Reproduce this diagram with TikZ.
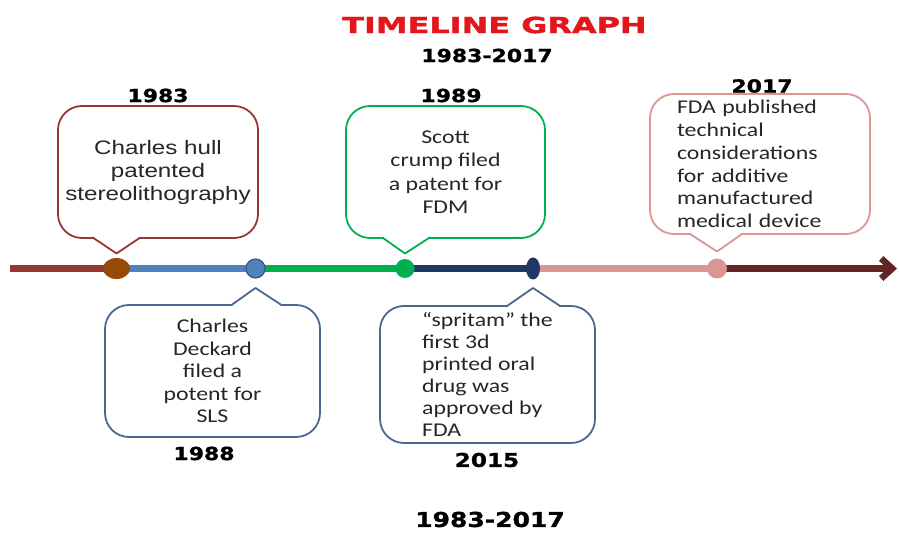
\documentclass[tikz,border=0pt]{standalone}
\usepackage{fontspec}
\usepackage{tikz}
\usetikzlibrary{calc,arrows.meta,shapes.geometric,backgrounds}
\setmainfont{Liberation Sans}
\newfontfamily\arialwide[FakeStretch=1.24]{Liberation Sans}
\newfontfamily\calwide[FakeStretch=1.22]{Carlito}
\newfontfamily\yearfont[FakeStretch=1.22,FakeBold=1.2]{DejaVu Sans}
\newfontfamily\titlefont[FakeStretch=1.45,FakeBold=1.8]{DejaVu Sans}
\definecolor{rustred}{HTML}{953735}
\definecolor{brownc}{HTML}{984807}
\definecolor{steelblue}{HTML}{4F81BD}
\definecolor{slateblue}{HTML}{4A6890}
\definecolor{grassgreen}{HTML}{00B050}
\definecolor{navyc}{HTML}{1F3864}
\definecolor{rosepink}{HTML}{D99694}
\definecolor{maroonc}{HTML}{632523}
\definecolor{titlered}{HTML}{E3161C}
\definecolor{inktext}{HTML}{262626}

\begin{document}
\begin{tikzpicture}[x=1pt, y=1pt,
    seg/.style={line width=6.5pt},
    tldot/.style={ellipse, inner sep=0pt, outer sep=0pt},
    bubble/.style={draw, line width=1.8pt, rounded corners=24pt, fill=white,
        inner sep=0pt, outer sep=0pt, text=inktext},
    pointer/.style={line width=1.8pt, fill=white, line join=round},
    year/.style={font=\yearfont\bfseries\fontsize{18}{20}\selectfont}]
    \useasboundingbox (0,0) rectangle (899,538);

    % Heading
    \node[font=\titlefont\bfseries\fontsize{22}{24}\selectfont, text=titlered] (title) at (494.5,513) {TIMELINE GRAPH};
    \node[year] (spantop) at (487,482.5) {1983-2017};
    \node[year, font=\yearfont\bfseries\fontsize{20.5}{22}\selectfont] (spanbot) at (490,18.5) {1983-2017};

    % Dots on the line
    \node[tldot, fill=brownc, minimum width=27pt, minimum height=21pt] (d83) at (116.5,269.5) {};
    \node[tldot, fill=steelblue, draw=steelblue!70!black, line width=1.2pt, minimum size=19pt] (d88) at (255.5,269.5) {};
    \node[tldot, fill=grassgreen, minimum size=19pt] (d89) at (405,269.5) {};
    \node[tldot, fill=navyc, minimum width=14pt, minimum height=22pt] (d15) at (533,269.5) {};
    \node[tldot, fill=rosepink, minimum size=20pt] (d17) at (717,269.5) {};

    % Line
    \coordinate (tlstart) at (10,269.5);
    \coordinate (tlend) at (897,269.5);
    \begin{scope}[on background layer]
        \draw[seg, rustred] (tlstart) -- (d83.center);
        \draw[seg, steelblue] (d83.center) -- (d88.center);
        \draw[seg, grassgreen] (d88.center) -- (d89.center);
        \draw[seg, navyc] (d89.center) -- (d15.center);
        \draw[seg, rosepink] (d15.center) -- (d17.center);
        \draw[seg, maroonc, -{Straight Barb[length=11pt,width=20pt]}] (d17.center) -- (tlend);
    \end{scope}

    % Callouts above
    \node[bubble, draw=rustred, minimum width=200pt, minimum height=132pt,
        font=\arialwide\fontsize{19.5}{23}\selectfont, align=center] (hull) at (158,366)
        {Charles hull\\patented\\stereolithography};
    \draw[pointer, draw=rustred] ($(hull.south -| d83)+(-23,1)$) -- ++(0,-1)
        -- ($(d83)+(0,15)$) -- ($(hull.south -| d83)+(23,0)$) -- ++(0,1);
    \node[year] (y83) at (158,442.5) {1983};

    \node[bubble, draw=grassgreen, minimum width=199pt, minimum height=132pt,
        font=\calwide\fontsize{19.5}{23.5}\selectfont, align=center] (scott) at (445.5,366)
        {Scott\\crump filed\\a patent for\\FDM};
    \draw[pointer, draw=grassgreen] ($(scott.south -| d89)+(-22,1)$) -- ++(0,-1)
        -- ($(d89)+(0,15)$) -- ($(scott.south -| d89)+(24,0)$) -- ++(0,1);
    \node[year] (y89) at (451,442.5) {1989};

    \node[bubble, draw=rosepink, minimum width=220pt, minimum height=140pt, text width=166pt,
        font=\calwide\fontsize{19.5}{22.8}\selectfont, align=left] (fda) at (760,374)
        {FDA published\\technical\\considerations\\for additive\\manufactured\\medical device};
    \draw[pointer, draw=rosepink] ($(fda.south -| d17)+(-27,1)$) -- ++(0,-1)
        -- ($(d17)+(0,17)$) -- ($(fda.south -| d17)+(25,0)$) -- ++(0,1);
    \node[year] (y17) at (762,452) {2017};

    % Callouts below
    \node[bubble, draw=slateblue, minimum width=215pt, minimum height=132pt,
        font=\calwide\fontsize{19.5}{22.5}\selectfont, align=center] (deckard) at (212.5,167)
        {Charles\\Deckard\\filed a\\potent for\\SLS};
    \draw[pointer, draw=slateblue] ($(deckard.north -| d88)+(-24,-1)$) -- ++(0,1)
        -- ($(d88)+(0,-19.5)$) -- ($(deckard.north -| d88)+(26,0)$) -- ++(0,-1);
    \node[year] (y88) at (204,84.5) {1988};

    \node[bubble, draw=slateblue, minimum width=215pt, minimum height=137pt,
        font=\calwide\fontsize{19.5}{22}\selectfont, align=left] (spritam) at (487.5,163.5)
        {“spritam” the\\first 3d\\printed oral\\drug was\\approved by\\FDA};
    \draw[pointer, draw=slateblue] ($(spritam.north -| d15)+(-26,-1)$) -- ++(0,1)
        -- ($(d15)+(0,-19.5)$) -- ($(spritam.north -| d15)+(27,0)$) -- ++(0,-1);
    \node[year, font=\yearfont\bfseries\fontsize{19}{21}\selectfont] (y15) at (487,78) {2015};
\end{tikzpicture}
\end{document}
